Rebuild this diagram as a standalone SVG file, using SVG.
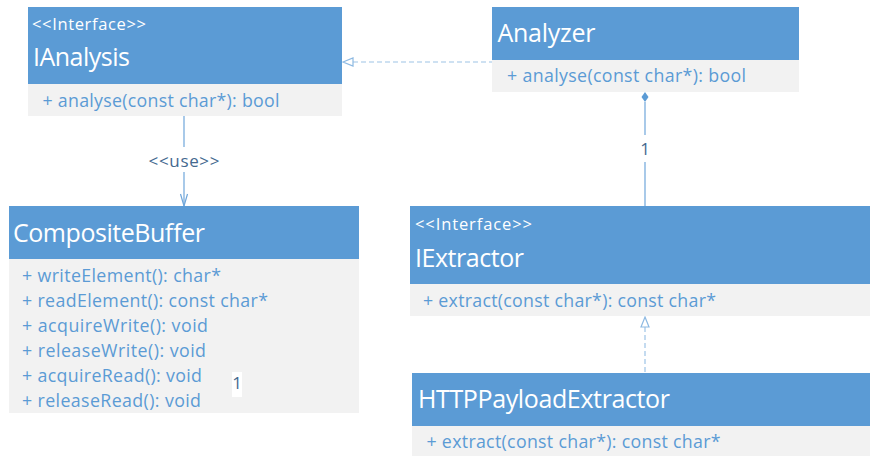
<svg xmlns="http://www.w3.org/2000/svg" width="870" height="456" viewBox="0 0 870 456">
  <defs>
    <style>
      text { font-family: "Open Sans", "Noto Sans", "Liberation Sans", sans-serif; }
      .head { fill: #5B9BD5; }
      .body { fill: #F2F2F2; }
      .stereo { fill: #FFFFFF; font-size: 16.5px; }
      .title { fill: #FFFFFF; font-size: 25px; }
      .member { fill: #5B9BD5; font-size: 17.8px; }
      .label { fill: #44698F; font-size: 17px; }
      .solid { stroke: #6FA6DA; stroke-width: 1.2; fill: none; }
      .dashed { stroke: #9DC3E6; stroke-width: 1.2; fill: none; stroke-dasharray: 5 3; }
    </style>
  </defs>

  <rect width="870" height="456" fill="#FFFFFF"/>

  <!-- connectors -->
  <g id="connectors">
    <!-- Analyzer realizes IAnalysis -->
    <line class="dashed" x1="353" y1="62" x2="492" y2="62"/>
    <polygon points="343,62 353,58 353,66" fill="#FFFFFF" stroke="#8DB9E2" stroke-width="1.2"/>

    <!-- IAnalysis uses CompositeBuffer -->
    <line class="solid" x1="184" y1="116" x2="184" y2="147"/>
    <text class="label" x="184" y="166.5" text-anchor="middle" textLength="71">&lt;&lt;use&gt;&gt;</text>
    <line class="solid" x1="184" y1="172" x2="184" y2="206"/>
    <polyline class="solid" points="180.5,194 184,206 187.5,194"/>

    <!-- Analyzer composes IExtractor -->
    <polygon points="645,92 648.5,97 645,102 641.5,97" fill="#5B9BD5"/>
    <line class="solid" x1="645" y1="102" x2="645" y2="135"/>
    <text class="label" x="645" y="155" text-anchor="middle" font-size="18">1</text>
    <line class="solid" x1="645" y1="162" x2="645" y2="206"/>

    <!-- HTTPPayloadExtractor realizes IExtractor -->
    <line class="dashed" x1="645" y1="327" x2="645" y2="374"/>
    <polygon points="645,317 649,327 641,327" fill="#FFFFFF" stroke="#8DB9E2" stroke-width="1.2"/>
  </g>

  <!-- IAnalysis -->
  <g id="IAnalysis">
    <rect class="head" x="28" y="7" width="314" height="77"/>
    <rect class="body" x="28" y="84" width="314" height="32"/>
    <text class="stereo" x="32" y="29.5" textLength="114">&lt;&lt;Interface&gt;&gt;</text>
    <text class="title" x="33" y="66" textLength="97">IAnalysis</text>
    <text class="member" x="42.5" y="107" textLength="237">+ analyse(const char*): bool</text>
  </g>

  <!-- Analyzer -->
  <g id="Analyzer">
    <rect class="head" x="492" y="7" width="307" height="53"/>
    <rect class="body" x="492" y="60" width="307" height="32"/>
    <text class="title" x="497.5" y="42" textLength="98">Analyzer</text>
    <text class="member" x="507" y="82" textLength="239">+ analyse(const char*): bool</text>
  </g>

  <!-- CompositeBuffer -->
  <g id="CompositeBuffer">
    <rect class="head" x="9" y="206" width="350" height="53"/>
    <rect class="body" x="9" y="259" width="350" height="154"/>
    <text class="title" x="13" y="241.5" textLength="192">CompositeBuffer</text>
    <text class="member" x="22" y="281.5" textLength="199">+ writeElement(): char*</text>
    <text class="member" x="22" y="306.5" textLength="246">+ readElement(): const char*</text>
    <text class="member" x="22" y="332" textLength="186">+ acquireWrite(): void</text>
    <text class="member" x="22" y="357" textLength="184">+ releaseWrite(): void</text>
    <text class="member" x="22" y="382" textLength="180">+ acquireRead(): void</text>
    <text class="member" x="22" y="406.5" textLength="179">+ releaseRead(): void</text>
    <rect x="232" y="372" width="10" height="25" fill="#FFFFFF"/>
    <text class="label" x="237" y="389" text-anchor="middle" font-size="18">1</text>
  </g>

  <!-- IExtractor -->
  <g id="IExtractor">
    <rect class="head" x="410" y="206" width="460" height="78"/>
    <rect class="body" x="410" y="284" width="460" height="32"/>
    <text class="stereo" x="415" y="229.5" textLength="117">&lt;&lt;Interface&gt;&gt;</text>
    <text class="title" x="415" y="266.5" textLength="109">IExtractor</text>
    <text class="member" x="423" y="306.5" textLength="293">+ extract(const char*): const char*</text>
  </g>

  <!-- HTTPPayloadExtractor -->
  <g id="HTTPPayloadExtractor">
    <rect class="head" x="412" y="373" width="458" height="53"/>
    <rect class="body" x="412" y="426" width="458" height="30"/>
    <text class="title" x="418" y="408" textLength="252">HTTPPayloadExtractor</text>
    <text class="member" x="426.5" y="448" textLength="294">+ extract(const char*): const char*</text>
  </g>
</svg>
